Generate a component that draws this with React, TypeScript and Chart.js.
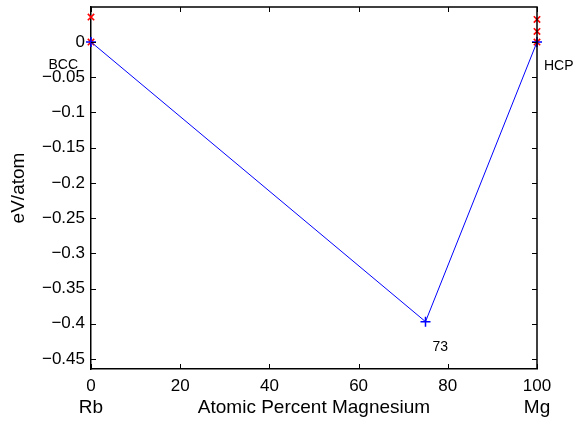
import { useEffect, useRef } from "react";
import { Chart, registerables } from "chart.js";

Chart.register(...registerables);

// ---- data ----
const hullX = [0, 75, 100];
const hullY = [0, -0.397, 0];
const otherX = [0, 0, 100, 100, 100];
const otherY = [0.0354, 0, 0.032, 0.015, 0];
const xTickValues = [0, 20, 40, 60, 80, 100];
const yTickValues = [-0.45, -0.4, -0.35, -0.3, -0.25, -0.2, -0.15, -0.1, -0.05, 0];
const xMin = 0;
const xMax = 100;
const yMin = -0.4642;
const yMax = 0.0497;
const xTitle = "Atomic Percent Magnesium";
const yTitle = "eV/atom";
const endLabels = ["Rb", "Mg"];
const phaseNames = ["BCC", "HCP"];
const phaseX = [0, 100];
const phaseY = [0, 0];
const hullLabel = "73";
const hullLabelX = 75;
const hullLabelY = -0.397;

const FONT = '"Liberation Sans", Arial, Helvetica, sans-serif';

const decorPlugin = {
  id: "decor",
  afterDraw(chart: any) {
    const { ctx, chartArea } = chart;
    const xs = chart.scales.x;
    const ys = chart.scales.y;
    const { left, right, top, bottom } = chartArea;
    ctx.save();
    // box top/right
    ctx.strokeStyle = "#000";
    ctx.lineWidth = 1.5;
    ctx.beginPath();
    ctx.moveTo(left, top);
    ctx.lineTo(right, top);
    ctx.lineTo(right, bottom);
    ctx.stroke();
    // inward ticks
    ctx.lineWidth = 1;
    const tl = 5;
    ctx.beginPath();
    xTickValues.forEach((v) => {
      const px = Math.round(xs.getPixelForValue(v)) + 0.5;
      ctx.moveTo(px, bottom);
      ctx.lineTo(px, bottom - tl);
      ctx.moveTo(px, top);
      ctx.lineTo(px, top + tl);
    });
    yTickValues.forEach((v) => {
      const py = Math.round(ys.getPixelForValue(v)) + 0.5;
      ctx.moveTo(left, py);
      ctx.lineTo(left + tl, py);
      ctx.moveTo(right, py);
      ctx.lineTo(right - tl, py);
    });
    ctx.stroke();

    // axis titles
    ctx.fillStyle = "#000";
    ctx.font = `19px ${FONT}`;
    ctx.textBaseline = "middle";
    ctx.textAlign = "center";
    const labelY = 408;
    ctx.fillText(xTitle, (left + right) / 2, labelY);
    ctx.fillText(endLabels[0], xs.getPixelForValue(xMin), labelY);
    ctx.fillText(endLabels[1], xs.getPixelForValue(xMax), labelY);
    ctx.save();
    ctx.translate(19, (top + bottom) / 2);
    ctx.rotate(-Math.PI / 2);
    ctx.fillText(yTitle, 0, 0);
    ctx.restore();

    // annotations
    ctx.font = `14px ${FONT}`;
    ctx.textAlign = "right";
    ctx.fillText(phaseNames[0], xs.getPixelForValue(phaseX[0]) - 13, ys.getPixelForValue(phaseY[0]) + 23);
    ctx.textAlign = "left";
    ctx.fillText(phaseNames[1], xs.getPixelForValue(phaseX[1]) + 7, ys.getPixelForValue(phaseY[1]) + 24);
    ctx.fillText(hullLabel, xs.getPixelForValue(hullLabelX) + 7, ys.getPixelForValue(hullLabelY) + 25);
    ctx.restore();
  },
};

export default function App() {
  const ref = useRef<HTMLCanvasElement | null>(null);
  useEffect(() => {
    document.body.style.margin = "0";
    const canvas = ref.current;
    if (!canvas) return;
    const chart = new Chart(canvas, {
      type: "scatter",
      data: {
        datasets: [
          {
            label: "others",
            data: otherX.map((x, i) => ({ x, y: otherY[i] })),
            showLine: false,
            pointStyle: "crossRot",
            pointRadius: 4.5,
            pointBorderWidth: 1.6,
            borderColor: "#ff0000",
            backgroundColor: "#ff0000",
            clip: false,
            order: 1,
          },
          {
            label: "hull",
            data: hullX.map((x, i) => ({ x, y: hullY[i] })),
            showLine: true,
            borderWidth: 1,
            borderColor: "#0000ff",
            backgroundColor: "#0000ff",
            pointStyle: "cross",
            pointRadius: 5,
            pointBorderWidth: 1.5,
            pointBorderColor: "#0000ff",
            clip: false,
            order: 0,
          },
        ],
      },
      options: {
        animation: false,
        responsive: false,
        events: [],
        layout: { padding: { top: 7, right: 37, left: 0, bottom: 0 } },
        plugins: { legend: { display: false }, tooltip: { enabled: false } },
        scales: {
          x: {
            type: "linear",
            min: xMin,
            max: xMax,
            afterBuildTicks: (s: any) => {
              s.ticks = xTickValues.map((value) => ({ value }));
            },
            afterFit: (s: any) => {
              s.height = 52;
              s.paddingLeft = 0;
              s.paddingRight = 0;
            },
            grid: { display: false, drawTicks: false },
            border: { display: true, color: "#000", width: 1.5 },
            ticks: {
              color: "#000",
              font: { family: FONT, size: 17 },
              padding: 7,
              maxRotation: 0,
              callback: (v: any) => String(v),
            },
          },
          y: {
            type: "linear",
            min: yMin,
            max: yMax,
            afterBuildTicks: (s: any) => {
              s.ticks = yTickValues.map((value) => ({ value }));
            },
            afterFit: (s: any) => {
              s.width = 91;
              s.paddingTop = 0;
              s.paddingBottom = 0;
            },
            grid: { display: false, drawTicks: false },
            border: { display: true, color: "#000", width: 1.5 },
            ticks: {
              color: "#000",
              font: { family: FONT, size: 17 },
              padding: 6,
              callback: (v: any) => (v === 0 ? "0" : "\u2212" + String(Math.abs(v))),
            },
          },
        },
      },
      plugins: [decorPlugin],
    } as any);
    return () => chart.destroy();
  }, []);
  return <canvas ref={ref} width={574} height={421} style={{ display: "block" }} />;
}
